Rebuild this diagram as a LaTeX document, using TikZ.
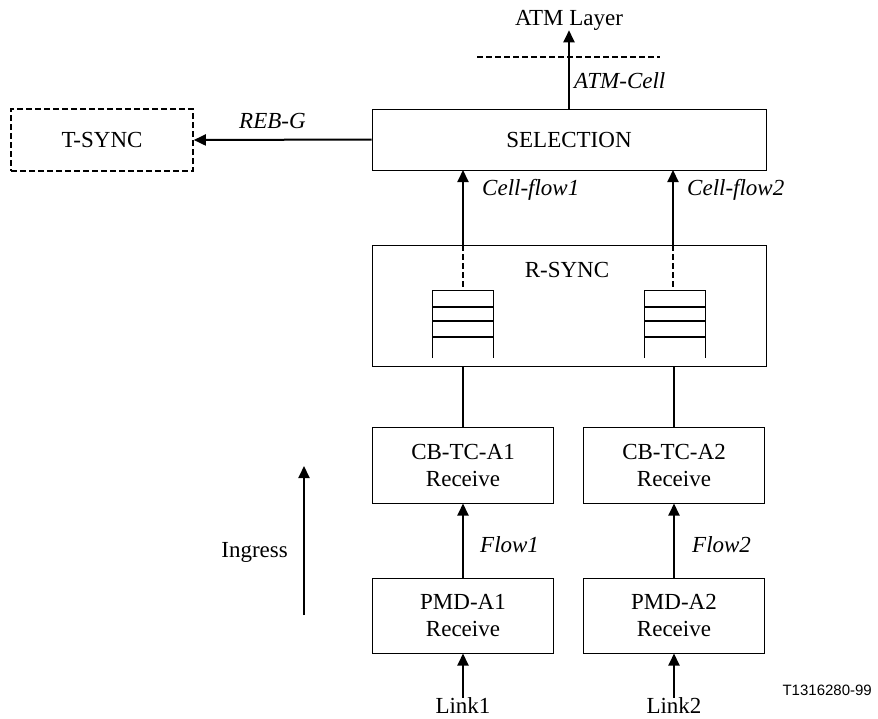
\documentclass[tikz,border=0pt]{standalone}
\usepackage{fontspec}
\setmainfont{Liberation Serif}
\setsansfont{Liberation Sans}
\usetikzlibrary{arrows.meta}
\tikzset{
  box/.style={draw, line width=1pt, inner sep=0pt, align=center, font=\fontsize{23}{27}\selectfont},
  txt/.style={inner sep=0pt, font=\fontsize{23}{27}\selectfont},
  lbl/.style={inner sep=0pt, anchor=west, font=\fontsize{23}{27}\selectfont\itshape},
  arr/.style={line width=2pt, -{Triangle[length=12pt,width=11pt]}},
  ln/.style={line width=2pt},
  dsh/.style={line width=1.6pt, dash pattern=on 6pt off 3pt},
}
\begin{document}
\begin{tikzpicture}[x=1pt,y=-1pt]
\useasboundingbox (0,0) rectangle (878,718);
% boxes
\node[box, dsh, minimum width=182pt, minimum height=62pt] (tsync) at (102,140) {T-SYNC};
\node[box, minimum width=394pt, minimum height=61pt] (sel) at (569,139.5) {SELECTION};
\node[box, minimum width=394pt, minimum height=121pt] (rsync) at (569,305.5) {};
\node[txt] (rsynct) at (567,270) {R-SYNC};
\node[box, minimum width=181pt, minimum height=76pt] (cb1) at (463,465) {CB-TC-A1\\Receive};
\node[box, minimum width=181pt, minimum height=76pt] (cb2) at (674,465) {CB-TC-A2\\Receive};
\node[box, minimum width=181pt, minimum height=75pt] (pmd1) at (463,615.5) {PMD-A1\\Receive};
\node[box, minimum width=181pt, minimum height=75pt] (pmd2) at (674,615.5) {PMD-A2\\Receive};
\node[txt] (link1) at (463,706) {Link1};
\node[txt] (link2) at (674,706) {Link2};
\node[txt] (atm) at (569,20) {ATM Layer};
\node[txt, anchor=east] (ingress) at (288,552) {Ingress};
\node[inner sep=0pt, anchor=east, font=\fontsize{15}{18}\sffamily] (code) at (872,690) {T1316280-99};
% labels
\node[lbl] (atmcell) at (574,81) {ATM-Cell};
\node[lbl] (rebg) at (239,121) {REB-G};
\node[lbl] (cf1) at (482,190) {Cell-flow1};
\node[lbl] (cf2) at (687,190) {Cell-flow2};
\node[lbl] (f1) at (480,545) {Flow1};
\node[lbl] (f2) at (692,545) {Flow2};
% dashed layer line
\coordinate (dl) at (477,57);
\coordinate (dr) at (660,57);
\draw[line width=1.6pt, dash pattern=on 6pt off 3pt] (dl) -- (dr);
% arrows
\draw[arr] (sel.north) -- (atm.south);
\draw[arr] (sel.west) -- (tsync.east);
\draw[arr] (463,245) -- (463,170);
\draw[arr] (673,245) -- (673,170);
\draw[dsh] (463,245) -- (463,290);
\draw[dsh] (673,245) -- (673,290);
\draw[ln] (463,366) -- (cb1.north);
\draw[ln] (674,366) -- (cb2.north);
\draw[arr] (pmd1.north) -- (cb1.south);
\draw[arr] (pmd2.north) -- (cb2.south);
\draw[arr] (link1.north) -- (pmd1.south);
\draw[arr] (link2.north) -- (pmd2.south);
\coordinate (ib) at (304,615);
\coordinate (it) at (304,466);
\draw[arr] (ib) -- (it);
% queues
\foreach \qx in {432,644} {
  \draw[line width=1pt] (\qx,358) -- (\qx,290) -- (\qx+61,290) -- (\qx+61,358);
  \draw[ln] (\qx,307) -- (\qx+61,307);
  \draw[ln] (\qx,321) -- (\qx+61,321);
  \draw[ln] (\qx,337) -- (\qx+61,337);
}
\end{tikzpicture}
\end{document}
